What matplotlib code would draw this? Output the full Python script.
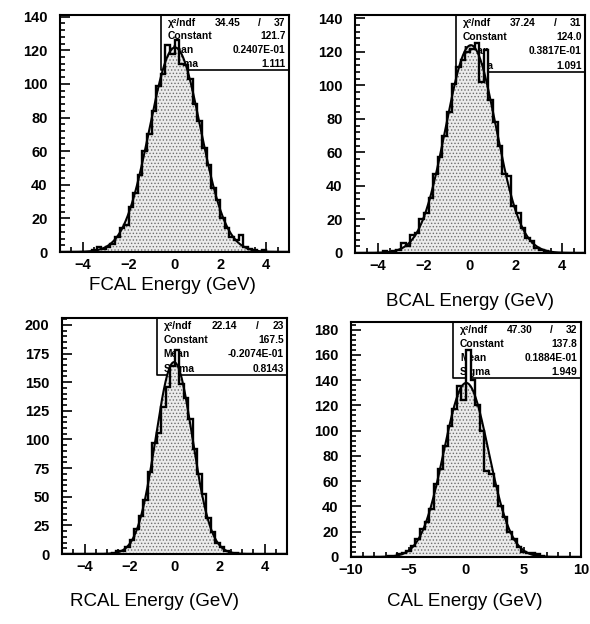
import numpy as np
import matplotlib
matplotlib.use("Agg")
import matplotlib.pyplot as plt
from matplotlib.ticker import MultipleLocator

# ---------------- data ----------------
fcal_counts = [0,0,0,0,0, 0,0,1,3,2, 3,5,9,14,16, 27,35,46,60,70, 84,99,106,123,118,
               126,112,111,103,88, 78,62,52,38,31, 20,14,9,7,10, 3,2,1,0,1, 0,0,0,0,0]
bcal_counts = [0,0,0,0,0, 0,1,0,1,2, 6,4,11,12,20, 24,33,47,57,70, 84,101,111,115,120,
               122,125,102,121,91, 78,64,47,46,28, 24,15,9,7,3, 2,1,0,0,0, 0,0,0,0,0]
rcal_counts = [0,0,0,0,0, 0,0,0,0,0, 0,1,3,3,6, 12,22,33,47,72, 97,106,128,146,164,
               178,148,136,118,92, 70,52,31,19,10, 6,3,1,1,0, 0,0,0,0,0, 0,0,0,0,0]
cal_counts = [0,0,0,0,0, 0,0,0,1,1, 2,3,5,9,14, 22,28,38,58,70, 88,104,117,135,124,
              164,140,120,100,68, 66,56,40,32,20, 14,8,4,3,3, 2,1,0,0,0, 0,0,0,0,0]

x_ranges = [(-5, 5), (-5, 5), (-5, 5), (-10, 10)]
n_bins = 50

fit_chi2 = ["34.45", "37.24", "22.14", "47.30"]
fit_ndf = ["37", "31", "23", "32"]
fit_constant = [121.7, 124.0, 167.5, 137.8]
fit_mean = [0.2407e-01, 0.3817e-01, -0.2074e-01, 0.1884e-01]
fit_sigma = [1.111, 1.091, 0.8143, 1.949]
mean_labels = ["0.2407E-01", "0.3817E-01", "-0.2074E-01", "0.1884E-01"]
const_labels = ["121.7", "124.0", "167.5", "137.8"]
sigma_labels = ["1.111", "1.091", "0.8143", "1.949"]

x_labels = ["FCAL Energy (GeV)", "BCAL Energy (GeV)", "RCAL Energy (GeV)", "CAL Energy (GeV)"]
y_tops = [141, 142, 206, 186]
y_major = [20, 20, 25, 20]
y_minor = [4, 4, 5, 4]
x_major = [2, 2, 2, 5]
x_minor = [0.5, 0.5, 0.5, 1]

all_counts = [fcal_counts, bcal_counts, rcal_counts, cal_counts]

# ---------------- layout (pixels) ----------------
W, H = 590, 624
ax_px = [(60, 15, 289, 252), (355, 15, 585, 253), (62, 318, 287, 554), (351, 322, 581, 557)]
box_px = [(161, 70), (456, 72), (157, 375), (453, 378)]   # box left, box bottom
label_px = [(172, 286), (470, 301), (155, 602), (465, 602)]

plt.rcParams["hatch.linewidth"] = 0.6
fig = plt.figure(figsize=(W / 100, H / 100), dpi=100)
FONT = "Liberation Sans"

for i in range(4):
    l, t, r, b = ax_px[i]
    ax = fig.add_axes([l / W, 1 - b / H, (r - l) / W, (b - t) / H])
    xmin, xmax = x_ranges[i]
    edges = np.linspace(xmin, xmax, n_bins + 1)
    counts = np.array(all_counts[i], dtype=float)

    # white body of the histogram (covers box text as in original)
    ax.stairs(counts, edges, fill=True, facecolor="white", edgecolor="none", zorder=3)
    # gaussian fit curve and stippled area under it
    xs = np.linspace(xmin, xmax, 800)
    ys = fit_constant[i] * np.exp(-0.5 * ((xs - fit_mean[i]) / fit_sigma[i]) ** 2)
    ax.fill_between(xs, 0, ys, facecolor="#ebebeb", edgecolor="#6e6e6e",
                    hatch=".....", linewidth=0, zorder=4)
    ax.stairs(counts, edges, color="black", linewidth=1.7, zorder=5)
    ax.plot(xs, ys, color="black", linewidth=1.5, zorder=6)

    ax.set_xlim(xmin, xmax)
    ax.set_ylim(0, y_tops[i])
    ax.xaxis.set_major_locator(MultipleLocator(x_major[i]))
    ax.xaxis.set_minor_locator(MultipleLocator(x_minor[i]))
    ax.yaxis.set_major_locator(MultipleLocator(y_major[i]))
    ax.yaxis.set_minor_locator(MultipleLocator(y_minor[i]))
    ax.tick_params(which="both", direction="in", top=False, right=False, width=1.2)
    ax.tick_params(which="major", length=7)
    ax.tick_params(which="minor", length=3.5)
    ax.tick_params(axis="y", pad=9)
    ax.tick_params(axis="x", pad=4)
    for lab in ax.get_xticklabels() + ax.get_yticklabels():
        lab.set_fontfamily(FONT)
        lab.set_fontweight("bold")
        lab.set_fontsize(10.5)
    for s in ax.spines.values():
        s.set_linewidth(1.5)
        s.set_zorder(7)

    # statistics box
    bl, bb = box_px[i]
    bx0 = (bl - l) / (r - l)
    by0 = (b - bb) / (b - t)
    ax.plot([bx0, bx0, 1], [1, by0, by0], transform=ax.transAxes, color="black",
            linewidth=1.2, zorder=2, clip_on=False)
    rows = [("χ²/ndf", None), ("Constant", const_labels[i]),
            ("Mean", mean_labels[i]), ("Sigma", sigma_labels[i])]
    hbox = 1 - by0
    for k, (name, val) in enumerate(rows):
        yy = 1 - hbox * (k + 0.55) / 4
        ax.text(bx0 + 0.03, yy, name, transform=ax.transAxes, fontsize=7.4,
                fontfamily=FONT, fontweight="bold", va="center", ha="left", zorder=2)
        if val is None:
            ax.text(bx0 + (1 - bx0) * 0.52, yy, fit_chi2[i], transform=ax.transAxes,
                    fontsize=7.4, fontfamily=FONT, fontweight="bold", va="center",
                    ha="center", zorder=2)
            ax.text(bx0 + (1 - bx0) * 0.77, yy, "/", transform=ax.transAxes,
                    fontsize=7.4, fontfamily=FONT, fontweight="bold", va="center",
                    ha="center", zorder=2)
            ax.text(0.985, yy, fit_ndf[i], transform=ax.transAxes, fontsize=7.4,
                    fontfamily=FONT, fontweight="bold", va="center", ha="right", zorder=2)
        else:
            ax.text(0.985, yy, val, transform=ax.transAxes, fontsize=7.4,
                    fontfamily=FONT, fontweight="bold", va="center", ha="right", zorder=2)

    lx, ly = label_px[i]
    fig.text(lx / W, 1 - ly / H, x_labels[i], fontsize=13.5, fontfamily=FONT,
             ha="center", va="center")

fig.savefig("out.png", dpi=100, facecolor="white")
